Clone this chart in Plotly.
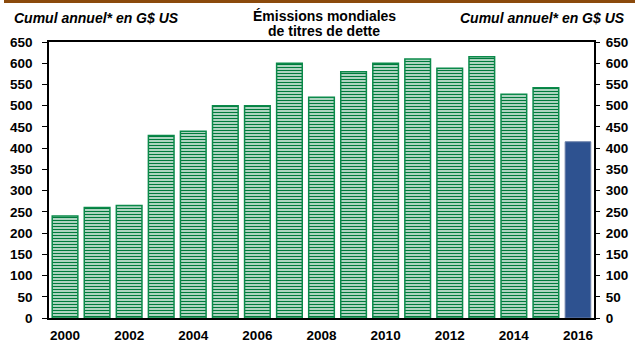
import plotly.graph_objects as go

years = list(range(2000, 2017))
values = [240, 260, 265, 430, 440, 500, 500, 600, 520, 580, 600, 610, 588, 615, 527, 542, 415]
y_ticks = list(range(0, 651, 50))
x_ticks = list(range(2000, 2017, 2))

GREEN = "#0B8A4A"
BLUE = "#2E5290"
BROWN = "#8B4A0C"
FONT = "Liberation Sans, Arial, sans-serif"

hist_years = years[:-1]
hist_vals = values[:-1]

fig = go.Figure()
fig.add_trace(go.Bar(
    x=hist_years, y=hist_vals,
    marker=dict(color="white", line=dict(color=GREEN, width=1.5),
                pattern=dict(shape="-", fgcolor="#007A3C", bgcolor="white", size=3, solidity=0.55)),
    width=0.8, showlegend=False, hoverinfo="x+y"))
fig.add_trace(go.Bar(
    x=[years[-1]], y=[values[-1]],
    marker=dict(color=BLUE, line=dict(color="#6A7FA8", width=1)),
    width=0.8, showlegend=False, hoverinfo="x+y"))
fig.add_trace(go.Scatter(x=[years[0]], y=[0], yaxis="y2", mode="markers",
                         marker=dict(opacity=0), showlegend=False, hoverinfo="skip"))

tickfont = dict(family=FONT, size=13.5, color="black", weight="bold")

W_plot = 635 - 49 - 41
H_plot = 343 - 42 - 25
def px(x):
    return (x - 49) / W_plot
def py(y):
    return (343 - 25 - y) / H_plot

ann_font = dict(family=FONT, size=14, color="black", weight="bold")

fig.update_layout(
    template="none",
    width=635, height=343, autosize=False,
    margin=dict(l=49, r=41, t=42, b=25, pad=0),
    paper_bgcolor="white", plot_bgcolor="white",
    bargap=0.2,
    xaxis=dict(range=[1999.5, 2016.5], tickvals=x_ticks, ticktext=[str(v) for v in x_ticks],
               showline=True, linecolor="black", linewidth=1.5, mirror=True,
               ticks="", showgrid=False, zeroline=False, tickfont=tickfont,
               ticklabelstandoff=4, automargin=False, fixedrange=True),
    yaxis=dict(range=[0, 650], tickvals=y_ticks, showline=True, linecolor="black", linewidth=1.5,
               mirror=True, ticks="outside", ticklen=5, tickcolor="black", tickwidth=1,
               showgrid=False, zeroline=False, tickfont=tickfont, ticklabelstandoff=7,
               automargin=False, fixedrange=True),
    yaxis2=dict(range=[0, 650], tickvals=y_ticks, overlaying="y", side="right",
                showline=False, ticks="outside", ticklen=5, tickcolor="black", tickwidth=1,
                showgrid=False, zeroline=False, tickfont=tickfont, ticklabelstandoff=3,
                automargin=False, fixedrange=True),
    shapes=[dict(type="rect", xref="paper", yref="paper", x0=px(4), x1=px(635),
                 y0=py(3), y1=py(0), fillcolor=BROWN, line=dict(width=0))],
    annotations=[
        dict(text="<i>Cumul annuel* en G$ US</i>", x=px(12), y=py(18), xref="paper", yref="paper",
             xanchor="left", yanchor="middle", showarrow=False, font=ann_font),
        dict(text="<i>Cumul annuel* en G$ US</i>", x=px(627), y=py(18), xref="paper", yref="paper",
             xanchor="right", yanchor="middle", showarrow=False, font=ann_font),
        dict(text="Émissions mondiales", x=px(324), y=py(16), xref="paper", yref="paper",
             xanchor="center", yanchor="middle", showarrow=False, font=ann_font),
        dict(text="de titres de dette", x=px(324), y=py(31), xref="paper", yref="paper",
             xanchor="center", yanchor="middle", showarrow=False, font=ann_font),
    ],
)

fig.write_html("out.html")
